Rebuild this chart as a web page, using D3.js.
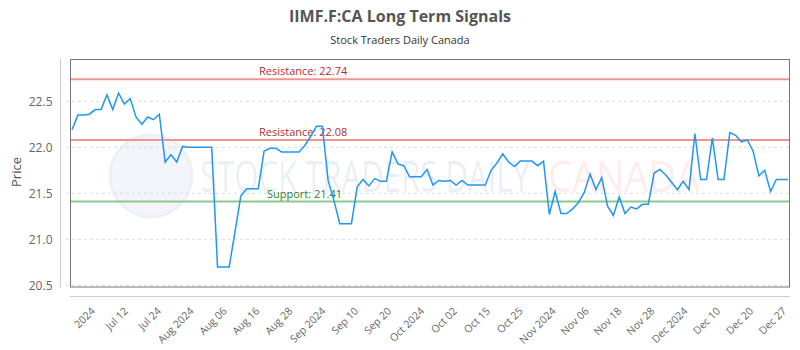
<!DOCTYPE html>
<html><head><meta charset="utf-8">
<script src="https://cdn.jsdelivr.net/npm/d3@7"></script>
<style>body{margin:0;background:#fff}svg{display:block}text{font-family:"Open Sans",sans-serif}</style>
</head><body><svg id="c" width="800" height="350"></svg>
<script>
const titleText = "IIMF.F:CA Long Term Signals";
const subtitleText = "Stock Traders Daily Canada";
const prices = [22.19,22.35,22.35,22.36,22.41,22.41,22.57,22.41,22.59,22.47,22.53,22.33,22.25,22.33,22.30,22.36,21.84,21.92,21.84,22.01,
22.00,22.00,22.00,22.00,22.00,20.70,20.70,20.70,21.08,21.47,21.55,21.55,21.55,21.96,21.99,21.99,21.95,21.95,21.95,21.95,
22.02,22.12,22.23,22.23,21.64,21.42,21.17,21.17,21.17,21.57,21.65,21.58,21.66,21.63,21.63,21.95,21.82,21.80,21.68,21.68,
21.68,21.76,21.59,21.64,21.63,21.64,21.59,21.64,21.59,21.59,21.59,21.59,21.75,21.83,21.93,21.84,21.79,21.85,21.85,21.85,
21.80,21.85,21.27,21.52,21.28,21.28,21.33,21.40,21.51,21.71,21.54,21.67,21.36,21.26,21.46,21.28,21.35,21.33,21.38,21.38,
21.72,21.76,21.70,21.62,21.54,21.63,21.54,22.15,21.65,21.65,22.10,21.65,21.65,22.16,22.13,22.06,22.08,21.96,21.69,21.75,
21.52,21.65,21.65,21.65];
const xTickLabels = ["2024","Jul 12","Jul 24","Aug 2024","Aug 06","Aug 16","Aug 28","Sep 2024","Sep 10","Sep 20","Oct 2024","Oct 02","Oct 15","Oct 25","Nov 2024","Nov 06","Nov 18","Nov 28","Dec 2024","Dec 10","Dec 20","Dec 27"];
const yTicks = [20.5,21.0,21.5,22.0,22.5];
const levels = [
  {label:"Resistance: 22.74", value:22.74, kind:"res"},
  {label:"Resistance: 22.08", value:22.08, kind:"res"},
  {label:"Support: 21.41", value:21.41, kind:"sup"}
];

const svg = d3.select("#c");
const L=70, R=790, T=59, B=286.5;
const x = d3.scaleLinear().domain([0, prices.length-1]).range([72, 788]);
const y = d3.scaleLinear().domain([20.5, 22.96]).range([285.3, 59]);

// title
svg.append("text").attr("x",400).attr("y",22).attr("text-anchor","middle")
  .style("font-size","16px").style("font-weight","bold").style("fill","#555").text(titleText);
svg.append("text").attr("x",400).attr("y",44).attr("text-anchor","middle")
  .style("font-size","11px").style("fill","#333").text(subtitleText);

// watermark
svg.append("circle").attr("cx",151).attr("cy",176).attr("r",41).attr("fill","#9fb6da").attr("stroke","#6d8fc4")
  .attr("stroke-width",3).attr("opacity",0.12);
const wt = svg.append("text").attr("y",192).style("font-size","44px");
wt.append("tspan").attr("x",200).attr("textLength",330).attr("lengthAdjust","spacingAndGlyphs")
  .style("fill","#5b7bb0").style("fill-opacity",0.12).text("STOCK TRADERS DAILY");
wt.append("tspan").attr("x",548).attr("textLength",152).attr("lengthAdjust","spacingAndGlyphs")
  .style("fill","#ff8a8a").style("fill-opacity",0.18).text("CANADA");

// gridlines
svg.append("g").selectAll("line").data(yTicks).join("line")
  .attr("x1",66).attr("x2",R).attr("y1",d=>y(d)).attr("y2",d=>y(d))
  .attr("stroke","#ddd").attr("stroke-dasharray","3,3");

// y axis
const yAxis = d3.axisLeft(y).tickValues(yTicks).tickFormat(d3.format(".1f")).tickSize(0).tickPadding(8);
const yg = svg.append("g").attr("transform","translate(60.5,0)").call(yAxis);
yg.select(".domain").attr("stroke","#ccc").attr("d","M0,"+T+"V"+(B+1));
yg.selectAll("text").style("font-size","12px").style("fill","#666").style("font-family","Open Sans, sans-serif");

svg.append("text").attr("transform","translate(21,172) rotate(-90)").attr("text-anchor","middle")
  .style("font-size","13px").style("fill","#555").text("Price");

// x axis
const tickPos = xTickLabels.map((d,i)=>3.2 + i*5.653);
const xg = svg.append("g").attr("transform","translate(0,296.5)");
xg.append("line").attr("x1",L).attr("x2",R).attr("stroke","#ccc");
xg.selectAll("text").data(xTickLabels).join("text")
  .attr("transform",(d,i)=>`translate(${x(tickPos[i])},10) rotate(-45)`)
  .attr("text-anchor","end").attr("dy","0.7em")
  .style("font-size","10.5px").style("fill","#666").text(d=>d);

// level lines
svg.append("g").selectAll("line").data(levels).join("line")
  .attr("x1",L).attr("x2",R).attr("y1",d=>y(d.value)).attr("y2",d=>y(d.value))
  .attr("stroke",d=>d.kind==="res"?"#f4948f":"#8cc98c").attr("stroke-width",2);
svg.append("g").selectAll("text").data(levels).join("text")
  .attr("x",d=>d.kind==="res"?259:267).attr("y",d=>y(d.value)-4)
  .style("font-size","11px").style("fill",d=>d.kind==="res"?"#b03030":"#2e7d32").text(d=>d.label);

// border
svg.append("rect").attr("x",L+0.5).attr("y",T+0.5).attr("width",R-L-1).attr("height",B-T)
  .attr("fill","none").attr("stroke","#777").attr("stroke-width",1);

// price line
svg.append("path").datum(prices)
  .attr("d", d3.line().x((d,i)=>x(i)).y(d=>y(d)))
  .attr("fill","none").attr("stroke","#2196f3").attr("stroke-width",1.5);
</script></body></html>
